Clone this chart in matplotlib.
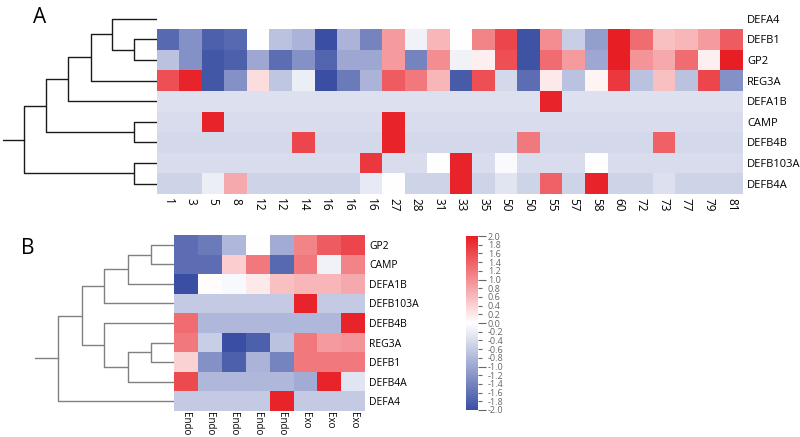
import numpy as np
import matplotlib
matplotlib.use('Agg')
import matplotlib.pyplot as plt
from matplotlib.colors import LinearSegmentedColormap

plt.rcParams['font.family'] = ['Open Sans', 'DejaVu Sans']

# panel A data
cols_a = ['1', '3', '5', '8', '12', '12', '14', '16', '16', '16', '27', '28', '31',
          '33', '35', '50', '50', '55', '57', '58', '60', '72', '73', '77', '79', '81']
rows_a = ['DEFA4', 'DEFB1', 'GP2', 'REG3A', 'DEFA1B', 'CAMP', 'DEFB4B', 'DEFB103A', 'DEFB4A']
nan = np.nan
defa4_a = [nan] * 26
defb1_a = [-1.7, -1.25, -1.8, -1.7, 0.0, -0.7, -0.85, -2.0, -0.85, -1.4, 0.9, -0.15, 0.65,
           0.0, 1.1, 1.65, -1.95, 1.0, -0.55, -1.1, 2.0, 1.3, 0.55, 0.65, 0.9, 1.45]
gp2_a = [-0.7, -1.25, -1.9, -1.8, -1.0, -1.65, -1.25, -1.75, -1.0, -1.0, 0.9, -1.4, 1.0,
         -0.15, 0.15, 1.55, -1.95, 1.3, 0.9, -1.0, 2.0, 0.95, 0.75, 1.3, 0.15, 2.0]
reg3a_a = [1.55, 1.95, -1.9, -1.25, 0.3, -0.65, -0.2, -2.0, -1.5, -0.85, 1.45, 1.2, 0.65,
           -1.85, 1.55, -0.45, -1.65, 0.2, -0.7, 0.1, 1.75, -0.7, 0.55, -0.7, 1.65, -1.25]
defa1b_a = [-0.35, -0.35, -0.35, -0.35, -0.35, -0.35, -0.35, -0.35, -0.35, -0.35, -0.35, -0.35, -0.35,
            -0.35, -0.35, -0.35, -0.35, 1.95, -0.35, -0.35, -0.35, -0.35, -0.35, -0.35, -0.35, -0.35]
camp_a = [-0.4, -0.4, 1.95, -0.4, -0.4, -0.4, -0.4, -0.4, -0.4, -0.4, 1.95, -0.4, -0.4,
          -0.4, -0.4, -0.4, -0.4, -0.4, -0.4, -0.4, -0.4, -0.4, -0.4, -0.4, -0.4, -0.4]
defb4b_a = [-0.45, -0.45, -0.45, -0.45, -0.45, -0.45, 1.65, -0.45, -0.45, -0.45, 1.95, -0.45, -0.45,
            -0.45, -0.45, -0.45, 1.2, -0.45, -0.45, -0.45, -0.45, -0.45, 1.4, -0.45, -0.45, -0.45]
defb103a_a = [-0.4, -0.4, -0.4, -0.4, -0.4, -0.4, -0.4, -0.4, -0.4, 1.75, -0.4, -0.4, 0.0,
              1.95, -0.4, -0.05, -0.4, -0.4, -0.4, 0.0, -0.4, -0.4, -0.4, -0.4, -0.4, -0.4]
defb4a_a = [-0.5, -0.5, -0.2, 0.75, -0.5, -0.5, -0.5, -0.5, -0.5, -0.25, 0.0, -0.5, -0.5,
            1.95, -0.5, -0.3, -0.5, 1.4, -0.5, 1.95, -0.5, -0.5, -0.35, -0.5, -0.5, -0.5]

# linkage A: (child, child, height)
links_a = [(1, 2, 23), (0, 9, 45), (10, 3, 66), (11, 4, 89), (5, 6, 23),
           (12, 13, 111), (7, 8, 23), (14, 15, 133)]
stem_a = 154

# panel B data
cols_b = ['Endo', 'Endo', 'Endo', 'Endo', 'Endo', 'Exo', 'Exo', 'Exo']
rows_b = ['GP2', 'CAMP', 'DEFA1B', 'DEFB103A', 'DEFB4B', 'REG3A', 'DEFB1', 'DEFB4A', 'DEFA4']
gp2_b = [-1.65, -1.5, -0.8, 0.0, -0.95, 1.1, 1.45, 1.65]
camp_b = [-1.65, -1.65, 0.45, 1.2, -1.7, 1.2, -0.15, 1.1]
defa1b_b = [-2.0, 0.02, -0.07, 0.2, 0.55, 0.65, 0.65, 0.75]
defb103a_b = [-0.6, -0.6, -0.6, -0.6, -0.6, 1.95, -0.6, -0.6]
defb4b_b = [1.3, -0.8, -0.8, -0.8, -0.8, -0.8, -0.8, 1.95]
reg3a_b = [1.2, -0.55, -2.0, -1.8, -0.7, 1.2, 0.9, 0.95]
defb1_b = [0.4, -1.25, -1.8, -0.85, -1.4, 1.2, 1.2, 1.2]
defb4a_b = [1.6, -0.8, -0.8, -0.8, -0.8, -0.95, 1.95, -0.3]
defa4_b = [-0.6, -0.6, -0.6, -0.6, 1.95, -0.6, -0.6, -0.6]

links_b = [(0, 1, 23), (9, 2, 46), (10, 3, 70), (5, 6, 23), (12, 7, 46),
           (4, 13, 70), (11, 14, 92), (15, 8, 116)]
stem_b = 139

cmap = LinearSegmentedColormap.from_list('bwr2', ['#3a4fa3', '#ffffff', '#e81e25'])


def draw_dendro(ax, links, n, stem, color):
    pos = {i: i + 0.5 for i in range(n)}
    hgt = {i: 0 for i in range(n)}
    for k, (a, b, h) in enumerate(links):
        ax.plot([hgt[a], h, h, hgt[b]], [pos[a], pos[a], pos[b], pos[b]],
                color=color, lw=1.0, solid_capstyle='butt')
        pos[n + k] = (pos[a] + pos[b]) / 2
        hgt[n + k] = h
    root = n + len(links) - 1
    ax.plot([hgt[root], stem], [pos[root], pos[root]], color=color, lw=1.0)
    ax.set_xlim(stem, 0)
    ax.set_ylim(n, 0)
    ax.axis('off')


def draw_heat(ax, vals, rows, cols, fs_row, fs_col, pad_col):
    m = ax.pcolormesh(np.ma.masked_invalid(vals), cmap=cmap, vmin=-2, vmax=2,
                      edgecolors='none', antialiased=False)
    ax.set_ylim(len(rows), 0)
    ax.set_xticks(np.arange(len(cols)) + 0.5)
    ax.set_xticklabels(cols, rotation=-90, fontsize=fs_col)
    ax.set_yticks(np.arange(len(rows)) + 0.5)
    ax.set_yticklabels(rows, fontsize=fs_row)
    ax.yaxis.tick_right()
    ax.tick_params(axis='y', length=0, pad=3)
    ax.tick_params(axis='x', length=0, pad=pad_col)
    for s in ax.spines.values():
        s.set_visible(False)
    return m


fig = plt.figure(figsize=(8, 4.37), dpi=100)

vals_a = np.array([defa4_a, defb1_a, gp2_a, reg3a_a, defa1b_a, camp_a,
                   defb4b_a, defb103a_a, defb4a_a])
ax_ha = fig.add_axes([0.196, 0.556, 0.7325, 0.4245])
draw_heat(ax_ha, vals_a, rows_a, cols_a, 8, 8.5, 3)
ax_da = fig.add_axes([0.00375, 0.556, 0.1925, 0.4245])
draw_dendro(ax_da, links_a, len(rows_a), stem_a, '#1a1a1a')

vals_b = np.array([gp2_b, camp_b, defa1b_b, defb103a_b, defb4b_b, reg3a_b,
                   defb1_b, defb4a_b, defa4_b])
ax_hb = fig.add_axes([0.2175, 0.0595, 0.239, 0.4027])
mesh = draw_heat(ax_hb, vals_b, rows_b, cols_b, 7.5, 7, 1)
ax_db = fig.add_axes([0.04375, 0.0595, 0.17375, 0.4027])
draw_dendro(ax_db, links_b, len(rows_b), stem_b, '#808080')

cax = fig.add_axes([0.5825, 0.0618, 0.015, 0.398])
cbar = fig.colorbar(mesh, cax=cax)
cbar.outline.set_visible(False)
major = [-2.0, -1.0, 0.0, 1.0, 2.0]
minor = [v / 10 for v in range(-18, 19, 2) if v % 10 != 0]
cax.set_yticks(major, labels=['%.1f' % v for v in major])
cax.set_yticks(minor, labels=['%.1f' % v for v in minor], minor=True)
cax.tick_params(which='major', length=6, width=0.8, colors='#666666', labelsize=6.5, pad=1)
cax.tick_params(which='minor', length=3, width=0.8, colors='#666666', labelsize=6.5, pad=4)

fig.text(0.05, 0.96, 'A', fontsize=15, ha='center', va='center')
fig.text(0.035, 0.432, 'B', fontsize=15, ha='center', va='center')

fig.savefig('out.png', dpi=100)
